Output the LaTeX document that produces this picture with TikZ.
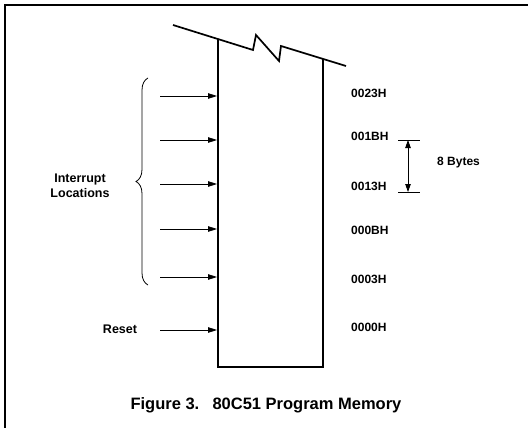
\documentclass[tikz,border=0pt]{standalone}
\usepackage{fontspec}
\setmainfont{Liberation Sans}
\usetikzlibrary{arrows.meta,decorations.pathreplacing}

\begin{document}
\begin{tikzpicture}[
    x=1pt, y=-1pt,
    frame line/.style={
        line width=2pt
    },
    memory wall/.style={
        line width=1.7pt,
        line join=miter
    },
    vector arrow/.style={
        -{Triangle[length=9pt,width=5.5pt]},
        line width=0.8pt
    },
    span arrow/.style={
        {Triangle[length=8pt,width=5.5pt]}-{Triangle[length=8pt,width=5.5pt]},
        line width=0.8pt
    },
    tick line/.style={
        line width=0.5pt
    },
    address label/.style={
        font=\fontsize{12}{14}\selectfont\bfseries,
        anchor=west,
        inner sep=0pt
    },
    side label/.style={
        font=\fontsize{12.5}{15}\selectfont\bfseries,
        align=center,
        inner sep=0pt
    }
]

\useasboundingbox (0,0) rectangle (528,428);

\def\tailx{160}
\def\wallL{218}
\def\wallR{323}

%% --- Cadre ---
\draw[frame line] (528,5) -- (5,5) -- (5,428);

%% --- Bloc mémoire (coupé en haut) ---
\coordinate (topL) at (\wallL,39);
\coordinate (topR) at (\wallR,59);
\coordinate (botL) at (\wallL,367);
\coordinate (botR) at (\wallR,367);
\draw[memory wall] (topL) -- (botL) -- (botR) -- (topR);
\draw[memory wall] (173,25) -- (253,50) -- (256,35) -- (279,61) -- (281,46) -- (346,66);

%% --- Vecteurs d'interruption + reset ---
\foreach \i/\y/\addr/\ly in {1/96/0023H/93, 2/140/001BH/136, 3/184/0013H/186,
                             4/229/000BH/230, 5/277/0003H/279, 6/330/0000H/327} {
    \coordinate (T\i) at (\tailx,\y);
    \coordinate (W\i) at (\wallL-1,\y);
    \draw[vector arrow] (T\i) -- (W\i);
    \node[address label] (A\i) at (351,\ly) {\addr};
}

%% --- Accolade et étiquettes ---
\coordinate (braceTop) at (148,78);
\coordinate (braceBot) at (148,285);
\draw[line width=0.8pt, decorate, decoration={brace, amplitude=12pt}]
    (braceBot) -- (braceTop);
\node[side label] (intr) at (80,186) {Interrupt\\Locations};
\node[side label] (reset) at (120,329) {Reset};

%% --- Écart de 8 octets ---
\coordinate (tickTop) at (408,140);
\coordinate (tickBot) at (408,192);
\draw[tick line] (398,140) -- (420,140);
\draw[tick line] (398,192) -- (420,192);
\draw[span arrow] (tickTop) -- (tickBot);
\node[address label] (bytes) at (437,163) {8 Bytes};

%% --- Légende ---
\node[font=\fontsize{16.5}{19}\selectfont\bfseries, inner sep=0pt] (caption) at (266,405)
    {Figure 3.\hspace{0.8em}80C51 Program Memory};

\end{tikzpicture}
\end{document}
